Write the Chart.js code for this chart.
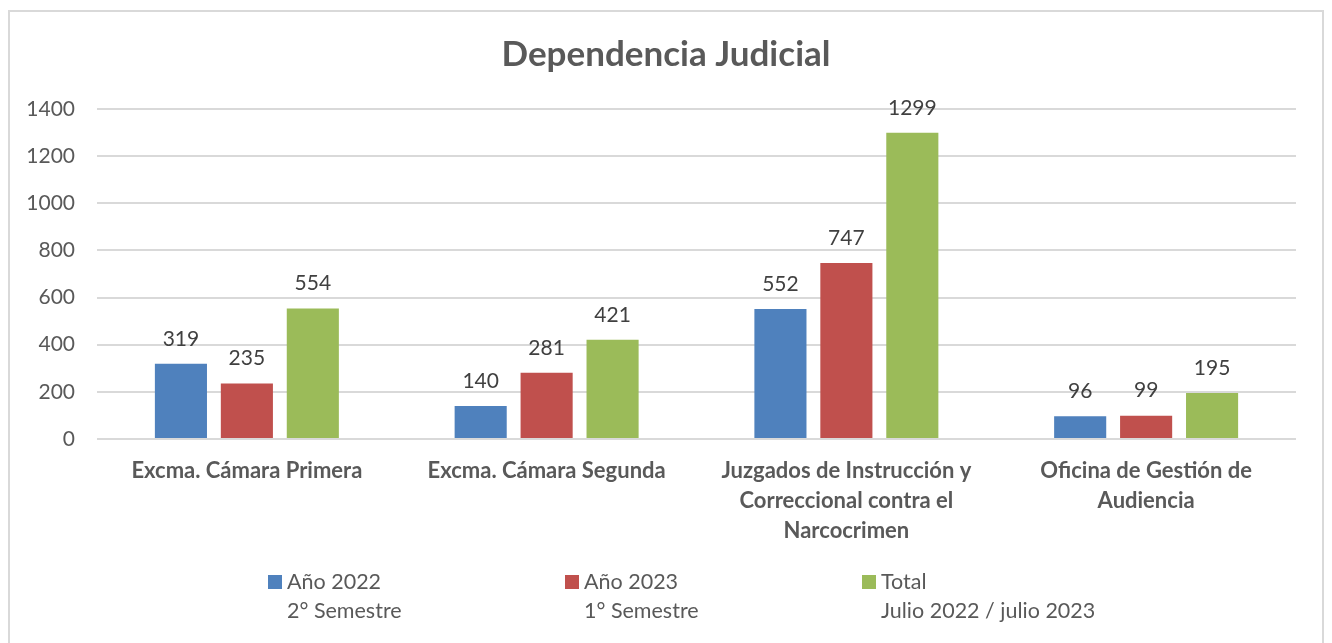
<!DOCTYPE html>
<html>
<head>
<meta charset="utf-8">
<script src="https://cdn.jsdelivr.net/npm/chart.js@4.4.1/dist/chart.umd.min.js"></script>
<style>
  html, body { margin: 0; padding: 0; background: #fff; overflow: hidden; }
  #wrap { position: relative; width: 1332px; height: 643px; }
  #frame { position: absolute; left: 8px; top: 10px; width: 1316px; height: 660px; border: 2px solid #d9d9d9; box-sizing: border-box; }
  canvas { position: absolute; left: 0; top: 0; }
</style>
</head>
<body>
<div id="wrap">
  <div id="frame"></div>
  <canvas id="chart" width="1332" height="643"></canvas>
</div>
<script>
// datos del gráfico
const chartTitle = 'Dependencia Judicial';
const categories = [
    'Excma. Cámara Primera',
    'Excma. Cámara Segunda',
    ['Juzgados de Instrucción y', 'Correccional contra el', 'Narcocrimen'],
    ['Oficina de Gestión de', 'Audiencia']
];
const seriesNames = [
    ['Año 2022', '2° Semestre'],
    ['Año 2023', '1° Semestre'],
    ['Total', 'Julio 2022 / julio 2023']
];
const anio2022 = [319, 140, 552, 96];
const anio2023 = [235, 281, 747, 99];
const total = [554, 421, 1299, 195];
const seriesColors = ['#4f81bd', '#c0504d', '#9bbb59'];
const yTicks = [0, 200, 400, 600, 800, 1000, 1200, 1400];

const textColor = '#595959';
const fontFamily = 'Lato, "Open Sans", sans-serif';

// título centrado en todo el lienzo
const centeredTitle = {
    id: 'centeredTitle',
    afterDraw(chart) {
        const ctx = chart.ctx;
        ctx.save();
        ctx.font = `bold 35px ${fontFamily}`;
        ctx.fillStyle = textColor;
        ctx.textAlign = 'center';
        ctx.textBaseline = 'middle';
        ctx.fillText(chartTitle, chart.width / 2, 55);
        ctx.restore();
    }
};

// etiquetas de valor sobre cada barra
const valueLabels = {
    id: 'valueLabels',
    afterDatasetsDraw(chart) {
        const ctx = chart.ctx;
        ctx.save();
        ctx.font = `21px ${fontFamily}`;
        ctx.fillStyle = '#404040';
        ctx.textAlign = 'center';
        ctx.textBaseline = 'middle';
        chart.data.datasets.forEach((ds, i) => {
            chart.getDatasetMeta(i).data.forEach((bar, j) => {
                ctx.fillText(ds.data[j], bar.x, bar.y - 25);
            });
        });
        ctx.restore();
    }
};

// leyenda de dos líneas abajo
const bottomLegend = {
    id: 'bottomLegend',
    afterDraw(chart) {
        const ctx = chart.ctx;
        ctx.save();
        ctx.font = `21.5px ${fontFamily}`;
        ctx.textBaseline = 'middle';
        ctx.textAlign = 'left';
        chart.data.datasets.forEach((ds, i) => {
            const x = 268 + i * 297;
            ctx.fillStyle = ds.backgroundColor;
            ctx.fillRect(x, 575, 14, 14);
            ctx.fillStyle = textColor;
            ds.label.forEach((line, k) => ctx.fillText(line, x + 19, 582 + k * 29));
        });
        ctx.restore();
    }
};

new Chart(document.getElementById('chart'), {
    type: 'bar',
    data: {
        labels: categories,
        datasets: [anio2022, anio2023, total].map((d, i) => ({
            label: seriesNames[i],
            data: d,
            backgroundColor: seriesColors[i],
            barPercentage: 0.79,
            categoryPercentage: 0.66
        }))
    },
    options: {
        responsive: false,
        animation: false,
        events: [],
        layout: { padding: { left: 9, right: 36, top: 109, bottom: 84 } },
        plugins: {
            legend: { display: false },
            tooltip: { enabled: false },
            title: { display: false }
        },
        scales: {
            x: {
                grid: { display: false },
                border: { display: false },
                ticks: {
                    color: textColor,
                    font: { family: fontFamily, size: 22, weight: 'bold', lineHeight: 1.36 },
                    padding: 9,
                    maxRotation: 0,
                    autoSkip: false
                },
                afterFit: (s) => { s.height = 120; }
            },
            y: {
                min: 0,
                max: 1400,
                afterBuildTicks: (s) => { s.ticks = yTicks.map(v => ({ value: v })); },
                grid: { color: '#d9d9d9', lineWidth: 2, drawTicks: false },
                border: { display: false },
                ticks: {
                    color: textColor,
                    font: { family: fontFamily, size: 21 },
                    padding: 22,
                    callback: (v) => String(v)
                },
                afterFit: (s) => { s.width = 88; }
            }
        }
    },
    plugins: [valueLabels, bottomLegend, centeredTitle]
});
</script>
</body>
</html>
